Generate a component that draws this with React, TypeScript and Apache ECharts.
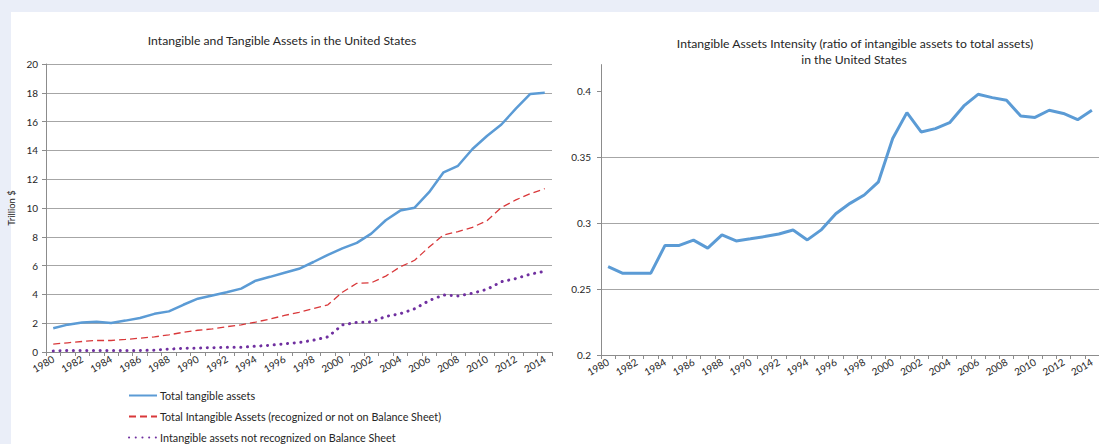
import React, { useEffect, useRef } from "react";
import * as echarts from "echarts";

const years = [
  "1980","1981","1982","1983","1984","1985","1986","1987","1988","1989",
  "1990","1991","1992","1993","1994","1995","1996","1997","1998","1999",
  "2000","2001","2002","2003","2004","2005","2006","2007","2008","2009",
  "2010","2011","2012","2013","2014",
];

const tangible = [
  1.65, 1.9, 2.05, 2.1, 2.02, 2.18, 2.36, 2.65, 2.82, 3.28,
  3.7, 3.92, 4.15, 4.4, 4.95, 5.22, 5.5, 5.78, 6.25, 6.75,
  7.2, 7.58, 8.22, 9.15, 9.82, 10.02, 11.1, 12.48, 12.93, 14.1,
  15.0, 15.8, 16.9, 17.92, 18.0,
];

const intangibleTotal = [
  0.55, 0.64, 0.73, 0.8, 0.8, 0.87, 0.96, 1.05, 1.19, 1.37,
  1.51, 1.6, 1.76, 1.88, 2.08, 2.29, 2.54, 2.75, 3.02, 3.28,
  4.15, 4.77, 4.81, 5.27, 5.91, 6.37, 7.29, 8.13, 8.36, 8.66,
  9.12, 10.03, 10.56, 11.0, 11.34,
];

const intangibleNotRecognized = [
  0.07, 0.1, 0.1, 0.1, 0.1, 0.1, 0.1, 0.13, 0.2, 0.25,
  0.27, 0.3, 0.33, 0.33, 0.4, 0.47, 0.57, 0.66, 0.82, 1.05,
  1.88, 2.06, 2.08, 2.47, 2.66, 3.0, 3.57, 3.96, 3.89, 4.08,
  4.35, 4.88, 5.1, 5.4, 5.61,
];

const intensity = [
  0.267, 0.262, 0.262, 0.262, 0.283, 0.283, 0.287, 0.281, 0.291, 0.2864,
  0.288, 0.2897, 0.2917, 0.2947, 0.2872, 0.295, 0.307, 0.3149, 0.3212, 0.3312,
  0.364, 0.3836, 0.369, 0.3715, 0.376, 0.3887, 0.3975, 0.395, 0.393, 0.381,
  0.38, 0.3854, 0.383, 0.3783, 0.3854,
];

const intensityTicks = [0.2, 0.25, 0.3, 0.35, 0.4];

const leftTitle = "Intangible and Tangible Assets in the United States";
const rightTitle1 = "Intangible Assets Intensity (ratio of intangible assets to total assets)";
const rightTitle2 = "in the United States";
const yAxisName = "Trillion $";
const seriesNames = [
  "Total tangible assets",
  "Total Intangible Assets (recognized or not on Balance Sheet)",
  "Intangible assets not recognized on Balance Sheet",
];

const FONT = "Lato, 'Open Sans', sans-serif";
const GRID = "#a6a6a6";
const AXIS = "#8c8c8c";
const TEXT = "#262626";

function xAxisCfg(gridIndex: number) {
  return {
    type: "category",
    gridIndex,
    data: years,
    boundaryGap: true,
    axisLine: { show: true, lineStyle: { color: AXIS, width: 1 } },
    axisTick: { show: true, interval: 0, length: 4, lineStyle: { color: AXIS } },
    axisLabel: {
      interval: 1,
      rotate: 30,
      fontSize: 10,
      color: TEXT,
      fontFamily: FONT,
      margin: 6,
    },
    splitLine: { show: false },
  };
}

export default function App() {
  const ref = useRef<HTMLDivElement>(null);

  useEffect(() => {
    if (!ref.current) return;
    const chart = echarts.init(ref.current, null, { renderer: "svg" });
    const option: any = {
      animation: false,
      backgroundColor: "#ffffff",
      textStyle: { fontFamily: FONT },
      graphic: [
        { type: "rect", shape: { x: 0, y: 0, width: 1099, height: 12 }, style: { fill: "#eaeef8" }, silent: true, z: -10 },
        { type: "rect", shape: { x: 0, y: 0, width: 11, height: 444 }, style: { fill: "#eaeef8" }, silent: true, z: -10 },
        {
          type: "text",
          x: 282,
          y: 40,
          style: { text: leftTitle, align: "center", verticalAlign: "middle", font: `12.2px ${FONT}`, fill: TEXT },
        },
        {
          type: "text",
          x: 855,
          y: 43,
          style: { text: rightTitle1, align: "center", verticalAlign: "middle", font: `12.2px ${FONT}`, fill: TEXT },
        },
        {
          type: "text",
          x: 854,
          y: 59,
          style: { text: rightTitle2, align: "center", verticalAlign: "middle", font: `12.2px ${FONT}`, fill: TEXT },
        },
      ],
      legend: {
        orient: "vertical",
        left: 128,
        top: 390,
        padding: 0,
        height: 120,
        itemWidth: 28,
        itemHeight: 10,
        itemGap: 10,
        itemStyle: { opacity: 0 },
        textStyle: { fontSize: 10.8, color: TEXT, fontFamily: FONT, padding: [0, 0, 0, -2] },
        data: seriesNames,
      },
      grid: [
        { left: 46, top: 64, width: 506, height: 288 },
        { left: 601, top: 64.6, width: 498, height: 290.4 },
      ],
      xAxis: [xAxisCfg(0), xAxisCfg(1)],
      yAxis: [
        {
          type: "value",
          gridIndex: 0,
          min: 0,
          max: 20,
          interval: 2,
          name: yAxisName,
          nameLocation: "middle",
          nameGap: 30,
          nameTextStyle: { fontSize: 9.5, color: TEXT, fontFamily: FONT },
          axisLine: { show: true, lineStyle: { color: AXIS } },
          axisTick: { show: true, length: 4, lineStyle: { color: AXIS } },
          axisLabel: { fontSize: 10, color: TEXT, fontFamily: FONT, margin: 8 },
          splitLine: { show: true, lineStyle: { color: GRID, width: 1.2 } },
        },
        {
          type: "value",
          gridIndex: 1,
          min: 0.2,
          max: 0.42,
          interval: 0.05,
          axisLine: { show: true, lineStyle: { color: AXIS } },
          axisTick: { show: true, length: 4, customValues: intensityTicks, lineStyle: { color: AXIS } },
          axisLabel: {
            fontSize: 10,
            color: TEXT,
            fontFamily: FONT,
            margin: 10,
            showMaxLabel: false,
            formatter: (v: number) => String(Math.round(v * 100) / 100),
          },
          splitLine: { show: true, showMaxLine: false, lineStyle: { color: GRID, width: 1.2 } },
        },
      ],
      series: [
        {
          name: seriesNames[0],
          type: "line",
          xAxisIndex: 0,
          yAxisIndex: 0,
          data: tangible,
          symbol: "none",
          itemStyle: { color: "#5b9bd5" },
          lineStyle: { color: "#5b9bd5", width: 2.5 },
        },
        {
          name: seriesNames[1],
          type: "line",
          xAxisIndex: 0,
          yAxisIndex: 0,
          data: intangibleTotal,
          symbol: "none",
          itemStyle: { color: "#d9383a" },
          lineStyle: { color: "#d9383a", width: 1.3, type: [7, 4] },
        },
        {
          name: seriesNames[2],
          type: "line",
          xAxisIndex: 0,
          yAxisIndex: 0,
          data: intangibleNotRecognized,
          symbol: "none",
          itemStyle: { color: "#7030a0" },
          lineStyle: { color: "#7030a0", width: 3, type: [0.1, 6.6], cap: "round" },
        },
        {
          name: "Intensity",
          type: "line",
          xAxisIndex: 1,
          yAxisIndex: 1,
          data: intensity,
          symbol: "none",
          itemStyle: { color: "#5b9bd5" },
          lineStyle: { color: "#5b9bd5", width: 3 },
        },
      ],
    };
    chart.setOption(option);
    return () => chart.dispose();
  }, []);

  return (
    <div
      ref={ref}
      style={{ position: "fixed", left: 0, top: 0, width: 1099, height: 444 }}
    />
  );
}
